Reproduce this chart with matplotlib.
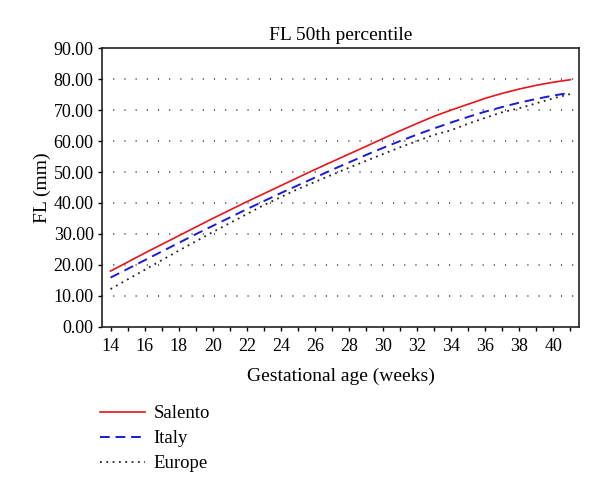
import numpy as np
import matplotlib
matplotlib.use('Agg')
import matplotlib.pyplot as plt
from matplotlib.ticker import MultipleLocator, FormatStrFormatter

plt.rcParams['font.family'] = ['Liberation Serif', 'DejaVu Serif']

# gestational weeks
weeks = list(range(14, 42))

# FL 50th percentile (mm)
salento = [18.0, 20.9, 23.8, 26.6, 29.4, 32.2, 35.0, 37.7, 40.4, 43.0,
           45.6, 48.2, 50.8, 53.3, 55.8, 58.3, 60.8, 63.3, 65.7, 68.0,
           70.0, 71.9, 73.8, 75.4, 76.8, 78.0, 79.0, 79.8]
italy = [15.9, 18.7, 21.5, 24.3, 27.1, 29.9, 32.6, 35.3, 38.0, 40.6,
         43.2, 45.7, 48.2, 50.7, 53.1, 55.5, 57.8, 60.0, 62.1, 64.1,
         66.0, 67.8, 69.5, 71.0, 72.4, 73.6, 74.7, 75.6]
europe = [12.2, 15.3, 18.4, 21.5, 24.6, 27.6, 30.6, 33.5, 36.4, 39.3,
          41.9, 44.5, 46.8, 49.1, 51.4, 53.6, 55.8, 58.0, 60.0, 62.0,
          63.5, 65.6, 67.5, 69.3, 70.6, 72.2, 73.8, 75.2]

xticks = list(range(14, 42, 2))

fig = plt.figure(figsize=(6, 4.96), dpi=100)
ax = fig.add_axes([0.17, 0.341, 0.795, 0.562])

# dotted horizontal grid
for yv in range(10, 90, 10):
    ax.axhline(yv, color='#555555', lw=1.3, ls=(0, (0.6, 5.6)), zorder=0)

l1, = ax.plot(weeks, salento, color='#e8141c', lw=1.2, label='Salento')
l2, = ax.plot(weeks, italy, color='#1a1adb', lw=1.4, ls=(0, (5, 3)), label='Italy')
l3, = ax.plot(weeks, europe, color='#222222', lw=1.3, ls=(0, (1, 2.5)), label='Europe')

ax.set_xlim(13.5, 41.5)
ax.set_ylim(0, 90)
ax.set_xticks(xticks)
ax.xaxis.set_minor_locator(MultipleLocator(1))
ax.yaxis.set_major_locator(MultipleLocator(10))
ax.yaxis.set_major_formatter(FormatStrFormatter('%.2f'))
ax.tick_params(axis='both', which='major', direction='out', length=3, width=1,
               labelsize=13, colors='black', pad=3)
ax.tick_params(axis='x', which='major', pad=5)
ax.tick_params(axis='x', which='minor', direction='out', length=3, width=1)
for s in ax.spines.values():
    s.set_linewidth(1.2)
    s.set_color('#222222')

ax.set_title('FL 50th percentile', fontsize=14, pad=6)
ax.set_xlabel('Gestational age (weeks)', fontsize=14, labelpad=9)
ax.set_ylabel('FL (mm)', fontsize=14, labelpad=2)

fig.legend(handles=[l1, l2, l3], loc='upper left', bbox_to_anchor=(0.154, 0.198),
           frameon=False, fontsize=13.5, handlelength=2.4, handletextpad=0.45,
           labelspacing=0.42, borderaxespad=0)

fig.savefig('out.png', dpi=100)
